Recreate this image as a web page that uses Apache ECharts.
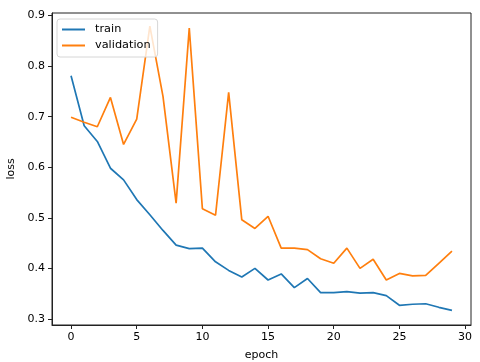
<!DOCTYPE html>
<html>
<head>
<meta charset="utf-8">
<script src="https://cdn.jsdelivr.net/npm/echarts@6/dist/echarts.min.js"></script>
<style>
html, body { margin: 0; padding: 0; background: #fff; }
#chart { width: 480px; height: 362px; }
</style>
</head>
<body>
<div id="chart"></div>
<script>
// loss per epoch
const epochs = [0, 1, 2, 3, 4, 5, 6, 7, 8, 9, 10, 11, 12, 13, 14, 15, 16, 17, 18, 19, 20, 21, 22, 23, 24, 25, 26, 27, 28, 29]
const trainLoss = [0.781, 0.682, 0.651, 0.598, 0.575, 0.536, 0.506, 0.475, 0.446, 0.439,
                   0.440, 0.413, 0.396, 0.383, 0.400, 0.377, 0.389, 0.362, 0.380, 0.352,
                   0.352, 0.354, 0.351, 0.352, 0.346, 0.327, 0.329, 0.330, 0.323, 0.317]
const valLoss = [0.699, 0.689, 0.680, 0.738, 0.645, 0.695, 0.879, 0.740, 0.529, 0.875,
                 0.518, 0.505, 0.748, 0.496, 0.479, 0.503, 0.440, 0.440, 0.437, 0.419,
                 0.410, 0.440, 0.400, 0.418, 0.377, 0.390, 0.385, 0.386, 0.410, 0.434]
const xTicks = [0, 5, 10, 15, 20, 25, 30]
const yTicks = [0.3, 0.4, 0.5, 0.6, 0.7, 0.8, 0.9]

function pairs(ys) {
  return epochs.map((e, i) => [e, ys[i]])
}

const font = 'DejaVu Sans'
const fs = 11
const axisCommon = {
  axisLine: { show: true, onZero: false, lineStyle: { color: '#222', width: 1 } },
  axisTick: { show: true, length: 4, lineStyle: { color: '#222', width: 1 } },
  splitLine: { show: false },
  nameTextStyle: { fontFamily: font, fontSize: fs, color: '#000' }
}

const options = {
  animation: false,
  backgroundColor: '#fff',
  grid: {
    left: 52, right: 9, top: 13, bottom: 37,
    outerBoundsMode: 'none',
    show: true, borderColor: '#222', borderWidth: 1
  },
  legend: {
    left: 57, top: 19,
    orient: 'vertical',
    padding: [5, 7, 6, 5],
    itemGap: 5,
    itemWidth: 23, itemHeight: 2,
    icon: 'rect',
    backgroundColor: 'rgba(255,255,255,0.8)',
    borderColor: '#d6d6d6', borderWidth: 1, borderRadius: 3,
    textStyle: { fontFamily: font, fontSize: 11.3, color: '#000', padding: [0, 0, 0, 5] },
    data: ['train', 'validation']
  },
  xAxis: Object.assign({}, axisCommon, {
    type: 'value',
    min: -1.45, max: 30.45,
    name: 'epoch', nameLocation: 'middle', nameGap: 25,
    axisTick: Object.assign({}, axisCommon.axisTick, { customValues: xTicks }),
    axisLabel: { customValues: xTicks, margin: 7, fontFamily: font, fontSize: fs, color: '#000' }
  }),
  yAxis: Object.assign({}, axisCommon, {
    type: 'value',
    min: 0.288, max: 0.905,
    name: 'loss', nameLocation: 'middle', nameGap: 30,
    axisTick: Object.assign({}, axisCommon.axisTick, { customValues: yTicks }),
    axisLabel: { customValues: yTicks, margin: 7, fontFamily: font, fontSize: fs, color: '#000',
                 formatter: v => v.toFixed(1) }
  }),
  series: [
    {
      name: 'train', type: 'line', data: pairs(trainLoss),
      symbol: 'none', color: '#1f77b4', lineStyle: { width: 1.7 }
    },
    {
      name: 'validation', type: 'line', data: pairs(valLoss),
      symbol: 'none', color: '#ff7f0e', lineStyle: { width: 1.7 }
    }
  ]
}

let instance = echarts.init(document.getElementById('chart'))
instance.setOption(options)
</script>
</body>
</html>
